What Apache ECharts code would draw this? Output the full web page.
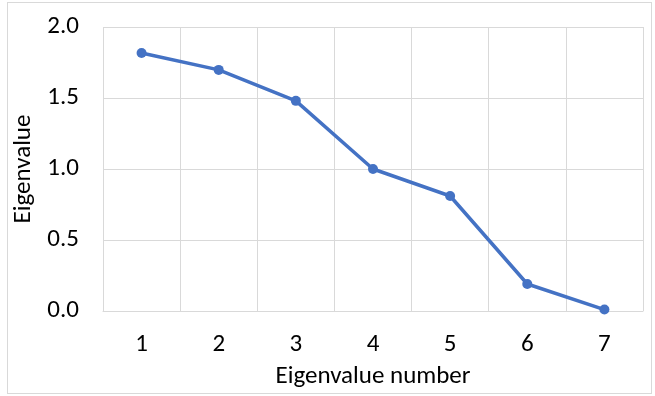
<!DOCTYPE html>
<html>
<head>
<meta charset="utf-8">
<script src="https://cdn.jsdelivr.net/npm/echarts@6/dist/echarts.min.js"></script>
<style>
html,body{margin:0;padding:0;background:#fff;}
#frame{position:absolute;left:7px;top:2px;width:645px;height:392px;border:1px solid #d9d9d9;box-sizing:border-box;}
#chart{position:absolute;left:0;top:0;width:655px;height:396px;}
</style>
</head>
<body>
<div id="frame"></div>
<div id="chart"></div>
<script>
// Scree plot: eigenvalue by component number
const categories = ['1', '2', '3', '4', '5', '6', '7'];
const eigenvalues = [1.817, 1.698, 1.48, 1.0, 0.81, 0.19, 0.01];
const yTicks = { min: 0, max: 2, interval: 0.5 };

const chart = echarts.init(document.getElementById('chart'), null, { renderer: 'canvas' });
const font = 'Carlito, Lato, "Open Sans", sans-serif';
chart.setOption({
  animation: false,
  grid: { left: 103, right: 12, top: 27, bottom: 85, containLabel: false },
  xAxis: {
    type: 'category',
    data: categories,
    boundaryGap: true,
    name: 'Eigenvalue number',
    nameLocation: 'middle',
    nameGap: 53,
    nameTextStyle: { fontFamily: font, fontSize: 25, color: '#000' },
    axisLine: { show: true, lineStyle: { color: '#d9d9d9', width: 1 } },
    axisTick: { show: false },
    axisLabel: { fontFamily: font, fontSize: 25, color: '#000', margin: 21 },
    splitLine: { show: true, lineStyle: { color: '#d9d9d9', width: 1 } }
  },
  yAxis: {
    type: 'value',
    min: yTicks.min,
    max: yTicks.max,
    interval: yTicks.interval,
    name: 'Eigenvalue',
    nameLocation: 'middle',
    nameGap: 63,
    nameRotate: 90,
    nameTextStyle: { fontFamily: font, fontSize: 25, color: '#000' },
    axisLine: { show: false },
    axisTick: { show: false },
    axisLabel: { fontFamily: font, fontSize: 25, color: '#000', margin: 24,
      formatter: v => v.toFixed(1) },
    splitLine: { show: true, lineStyle: { color: '#d9d9d9', width: 1 } }
  },
  series: [{
    type: 'line',
    data: eigenvalues,
    symbol: 'circle',
    symbolSize: 10,
    lineStyle: { color: '#4472C4', width: 3.5 },
    itemStyle: { color: '#4472C4' }
  }]
});
</script>
</body>
</html>
